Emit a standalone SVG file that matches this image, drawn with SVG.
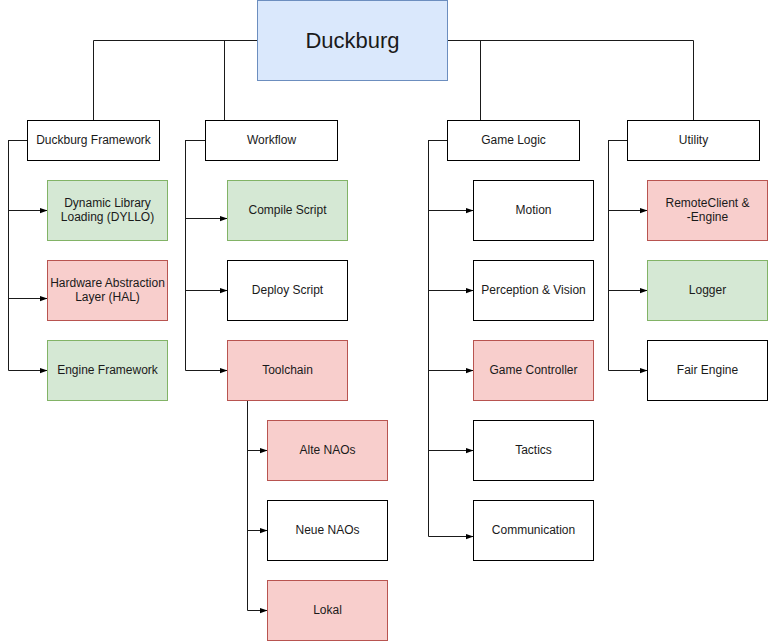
<svg xmlns="http://www.w3.org/2000/svg" width="768" height="641" viewBox="0 0 768 641">
<defs>
<style>
.w{fill:#ffffff;stroke:#000000;stroke-width:1}
.g{fill:#d5e8d4;stroke:#82b366;stroke-width:1}
.r{fill:#f8cecc;stroke:#b85450;stroke-width:1}
.b{fill:#dae8fc;stroke:#6c8ebf;stroke-width:1}
text{font-family:"Liberation Sans",Arial,sans-serif;font-size:12px;fill:#1a1a1a;text-anchor:middle}
.big{font-size:22px}
.e{fill:none;stroke:#1a1a1a;stroke-width:1}
.a{marker-end:url(#arr)}
</style>
<marker id="arr" viewBox="0 0 10 10" refX="10" refY="5" markerWidth="8" markerHeight="8" markerUnits="userSpaceOnUse" orient="auto">
<path d="M0,1.5 L10,5 L0,8.5 Z" fill="#000"/>
</marker>
</defs>
<rect width="768" height="641" fill="#ffffff"/>
<g id="connectors">
<path class="e" d="M257.5,40.5 H93.5 V120.5"/>
<path class="e" d="M257.5,40.5 H224.5 V120.5"/>
<path class="e" d="M447.5,40.5 H480.5 V120.5"/>
<path class="e" d="M447.5,40.5 H693.5 V120.5"/>
<path class="e a" d="M27.5,140.5 H8.5 V210.5 H47.5"/>
<path class="e a" d="M27.5,140.5 H8.5 V298.5 H47.5"/>
<path class="e a" d="M27.5,140.5 H8.5 V370.5 H47.5"/>
<path class="e a" d="M205.5,140.5 H185.5 V218.5 H227.5"/>
<path class="e a" d="M205.5,140.5 H185.5 V290.5 H227.5"/>
<path class="e a" d="M205.5,140.5 H185.5 V370.5 H227.5"/>
<path class="e a" d="M256.5,400.5 H247.5 V450.5 H267.5"/>
<path class="e a" d="M256.5,400.5 H247.5 V530.5 H267.5"/>
<path class="e a" d="M256.5,400.5 H247.5 V610.5 H267.5"/>
<path class="e a" d="M447.5,140.5 H428.5 V210.5 H473.5"/>
<path class="e a" d="M447.5,140.5 H428.5 V290.5 H473.5"/>
<path class="e a" d="M447.5,140.5 H428.5 V370.5 H473.5"/>
<path class="e a" d="M447.5,140.5 H428.5 V450.5 H473.5"/>
<path class="e a" d="M447.5,140.5 H428.5 V536.5 H473.5"/>
<path class="e a" d="M627.5,140.5 H608.5 V210.5 H647.5"/>
<path class="e a" d="M627.5,140.5 H608.5 V290.5 H647.5"/>
<path class="e a" d="M627.5,140.5 H608.5 V370.5 H647.5"/>
</g>
<g id="duckburg"><rect class="b" x="257.5" y="0.5" width="190" height="80"/><text class="big" x="352.5" y="47.5">Duckburg</text></g>
<g id="duckburg-framework"><rect class="w" x="27.5" y="120.5" width="132" height="40"/><text x="93.5" y="143.5">Duckburg Framework</text></g>
<g id="workflow"><rect class="w" x="205.5" y="120.5" width="132" height="40"/><text x="271.5" y="143.5">Workflow</text></g>
<g id="game-logic"><rect class="w" x="447.5" y="120.5" width="132" height="40"/><text x="513.5" y="143.5">Game Logic</text></g>
<g id="utility"><rect class="w" x="627.5" y="120.5" width="132" height="40"/><text x="693.5" y="143.5">Utility</text></g>
<g id="dyllo"><rect class="g" x="47.5" y="180.5" width="120" height="60"/><text x="107.5" y="206.5">Dynamic Library</text><text x="107.5" y="220.5">Loading (DYLLO)</text></g>
<g id="hal"><rect class="r" x="47.5" y="260.5" width="120" height="60"/><text x="107.5" y="286.5">Hardware Abstraction</text><text x="107.5" y="300.5">Layer (HAL)</text></g>
<g id="engine-framework"><rect class="g" x="47.5" y="340.5" width="120" height="60"/><text x="107.5" y="373.5">Engine Framework</text></g>
<g id="compile-script"><rect class="g" x="227.5" y="180.5" width="120" height="60"/><text x="287.5" y="213.5">Compile Script</text></g>
<g id="deploy-script"><rect class="w" x="227.5" y="260.5" width="120" height="60"/><text x="287.5" y="293.5">Deploy Script</text></g>
<g id="toolchain"><rect class="r" x="227.5" y="340.5" width="120" height="60"/><text x="287.5" y="373.5">Toolchain</text></g>
<g id="alte-naos"><rect class="r" x="267.5" y="420.5" width="120" height="60"/><text x="327.5" y="453.5">Alte NAOs</text></g>
<g id="neue-naos"><rect class="w" x="267.5" y="500.5" width="120" height="60"/><text x="327.5" y="533.5">Neue NAOs</text></g>
<g id="lokal"><rect class="r" x="267.5" y="580.5" width="120" height="60"/><text x="327.5" y="613.5">Lokal</text></g>
<g id="motion"><rect class="w" x="473.5" y="180.5" width="120" height="60"/><text x="533.5" y="213.5">Motion</text></g>
<g id="perception"><rect class="w" x="473.5" y="260.5" width="120" height="60"/><text x="533.5" y="293.5">Perception &amp; Vision</text></g>
<g id="game-controller"><rect class="r" x="473.5" y="340.5" width="120" height="60"/><text x="533.5" y="373.5">Game Controller</text></g>
<g id="tactics"><rect class="w" x="473.5" y="420.5" width="120" height="60"/><text x="533.5" y="453.5">Tactics</text></g>
<g id="communication"><rect class="w" x="473.5" y="500.5" width="120" height="60"/><text x="533.5" y="533.5">Communication</text></g>
<g id="remoteclient"><rect class="r" x="647.5" y="180.5" width="120" height="60"/><text x="707.5" y="206.5">RemoteClient &amp;</text><text x="707.5" y="220.5">-Engine</text></g>
<g id="logger"><rect class="g" x="647.5" y="260.5" width="120" height="60"/><text x="707.5" y="293.5">Logger</text></g>
<g id="fair-engine"><rect class="w" x="647.5" y="340.5" width="120" height="60"/><text x="707.5" y="373.5">Fair Engine</text></g>
</svg>
